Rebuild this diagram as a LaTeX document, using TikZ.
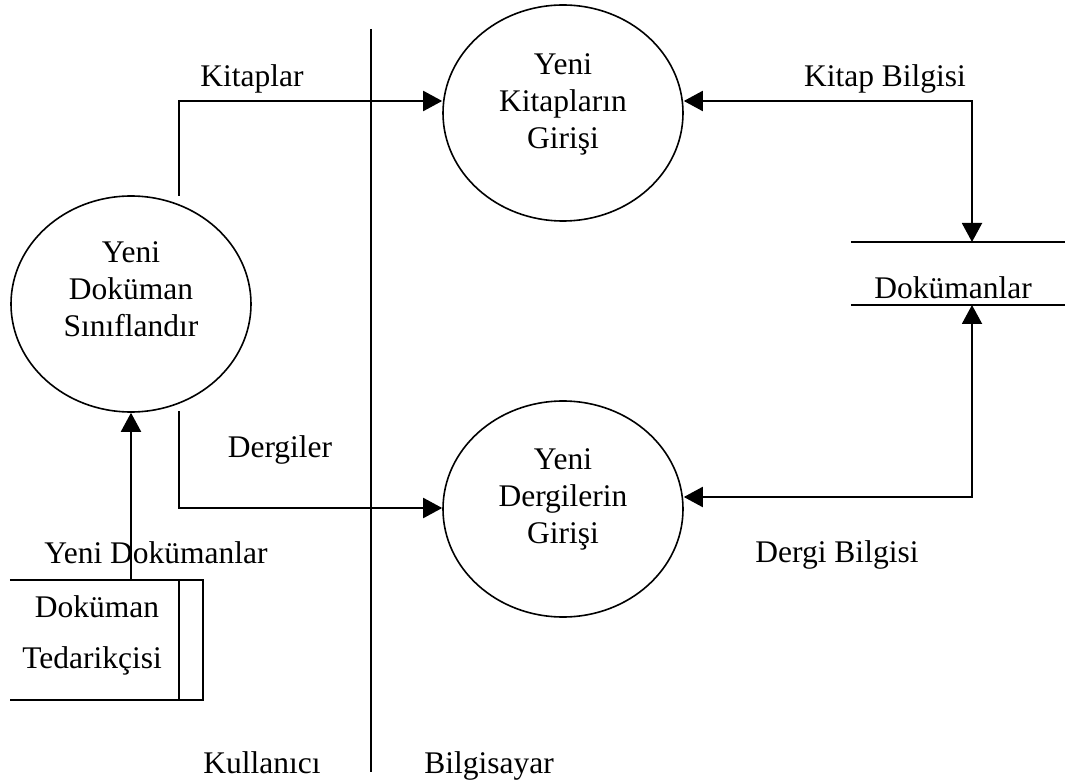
\documentclass[tikz,border=0pt]{standalone}
\usepackage{fontspec}
\setmainfont{Liberation Serif}
\usetikzlibrary{arrows.meta,shapes.geometric}
\begin{document}
\begin{tikzpicture}[x=1pt,y=-1pt,
  every node/.style={font=\fontsize{31.5}{37}\selectfont, inner sep=0pt},
  process/.style={ellipse, draw, line width=1.6pt, minimum width=240pt, minimum height=216pt},
  flow/.style={line width=2pt, -{Triangle[length=19pt,width=20pt]}},
  biflow/.style={line width=2pt, {Triangle[length=19pt,width=20pt]}-{Triangle[length=19pt,width=20pt]}},
  plain/.style={line width=2pt},
  lbl/.style={anchor=base},
  ptext/.style={align=center}]
\useasboundingbox (0,0) rectangle (1065,783);

% processes
\node[process] (p1) at (131,304) {};
\node[process] (p2) at (563,113) {};
\node[process] (p3) at (563,509) {};
\node[ptext] (p1t) at ([yshift=15pt]p1.center) {Yeni\\Doküman\\Sınıflandır};
\node[ptext] (p2t) at ([yshift=9pt]p2.center) {Yeni\\Kitapların\\Girişi};
\node[ptext] (p3t) at ([yshift=10pt]p3.center) {Yeni\\Dergilerin\\Girişi};

% external entity (open on the left)
\node[minimum width=193pt, minimum height=120pt] (ent) at (106.5,640) {};
\draw[plain] (ent.north west) -- (ent.north east) -- (ent.south east) -- (ent.south west);
\draw[plain] ([xshift=-24pt]ent.north east) -- ([xshift=-24pt]ent.south east);
\node[lbl] (ent1) at (97,617) {Doküman};
\node[lbl] (ent2) at (92,668) {Tedarikçisi};

% data store
\node[minimum width=214pt, minimum height=63pt] (store) at (958,273.5) {};
\draw[plain] (store.north west) -- (store.north east);
\draw[plain] (store.south west) -- (store.south east);
\node[lbl] (storet) at (953,299) {Dokümanlar};

% system boundary
\coordinate (btop) at (371,29);
\coordinate (bbot) at (371,772);
\draw[plain] (btop) -- (bbot);

% data flows
\coordinate (kstart) at (179,196);
\coordinate (dstart) at (179,411);
\coordinate (sin) at (972,242);
\coordinate (sout) at (972,305);
\draw[flow] (kstart) |- ([yshift=12pt]p2.west);
\draw[flow] (dstart) |- ([yshift=1pt]p3.west);
\draw[biflow] (sin) |- ([yshift=12pt]p2.east);
\draw[biflow] (sout) |- ([yshift=12pt]p3.east);
\draw[flow] (ent.north -| p1.south) -- (p1.south);

% labels
\node[lbl] (lk) at (252,87) {Kitaplar};
\node[lbl] (lkb) at (885,87) {Kitap Bilgisi};
\node[lbl] (ld) at (280,457) {Dergiler};
\node[lbl] (ldb) at (837,562) {Dergi Bilgisi};
\node[lbl] (lyd) at (156,563) {Yeni Dokümanlar};
\node[lbl] (lu) at (262,773) {Kullanıcı};
\node[lbl] (lc) at (489,773) {Bilgisayar};
\end{tikzpicture}
\end{document}
